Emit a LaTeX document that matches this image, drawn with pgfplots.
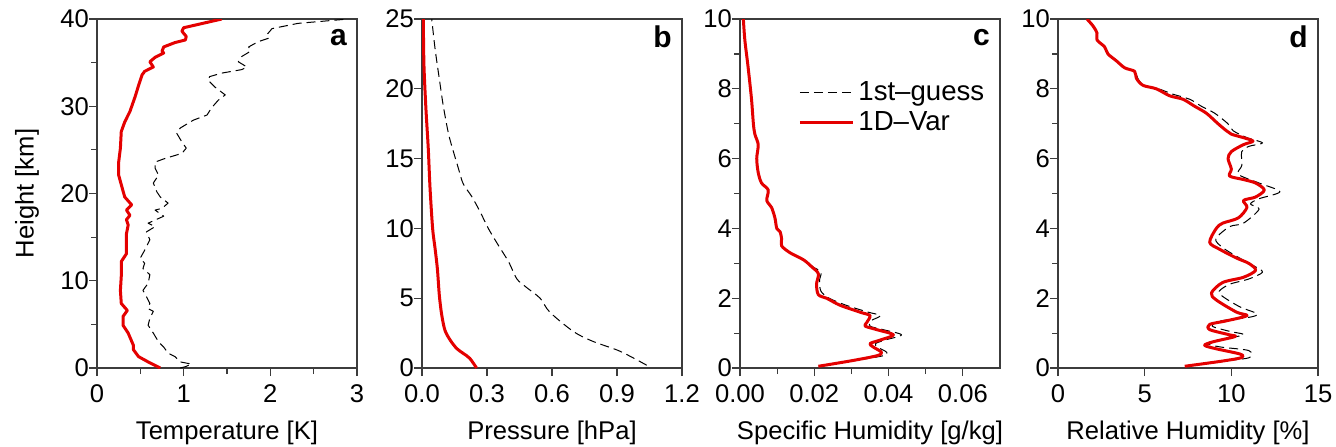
\documentclass[border=0pt]{standalone}
\usepackage{fontspec}
\setmainfont{Liberation Sans}
\usepackage{pgfplots}
\pgfplotsset{compat=1.18}
\definecolor{vred}{RGB}{228,0,0}
\definecolor{axgray}{RGB}{60,60,60}
\tikzset{letter/.style={anchor=east, inner sep=0pt, font=\bfseries\fontsize{15}{15}\selectfont}}
\pgfplotsset{
  panel/.style={
    scale only axis, width=130pt, height=174.5pt,
    axis line style={axgray, line width=0.6pt},
    tick style={axgray, line width=0.6pt},
    tick align=outside, tick pos=left,
    major tick length=4pt, minor tick length=3pt,
    ymin=0,
    /pgf/number format/assume math mode=true,
    tick label style={font=\fontsize{12.8}{14}\selectfont},
    yticklabel style={xshift=3.5pt},
    xticklabel style={yshift=-1pt},
    every axis x label/.style={at={([yshift=-32.5pt]axis description cs:0.5,0)}, anchor=center, font=\fontsize{12.8}{14}\selectfont},
    every axis y label/.style={at={([xshift=-35pt]axis description cs:0,0.5)}, anchor=center, rotate=90, font=\fontsize{12.8}{14}\selectfont},
    scaled ticks=false,
  },
  guess/.style={black, line width=0.5pt, dash pattern=on 4.5pt off 2.5pt, line join=round},
  var/.style={vred, line width=1.5pt, line join=round},
}
\begin{document}
\begin{tikzpicture}
\useasboundingbox (0,0) rectangle (668pt,223pt);
% ---------------- a
\begin{axis}[panel, at={(48.5pt,39pt)}, anchor=south west,
  xmin=0, xmax=3, ymax=40, xtick={0,1,2,3}, ytick={0,10,20,30,40},
  minor x tick num=1, minor y tick num=1,
  xlabel={Temperature [K]}, ylabel={Height [km]}]
\addplot[guess] table {
0.96 0.0
1.02 0.15
1.09 0.45
0.96 0.7
0.90 1.3
0.82 1.7
0.77 2.4
0.71 3.0
0.65 4.0
0.59 4.9
0.61 5.7
0.65 6.5
0.59 6.8
0.61 7.4
0.57 8.2
0.53 8.9
0.59 9.7
0.61 10.7
0.53 11.4
0.55 12.0
0.50 12.6
0.55 13.5
0.61 14.7
0.57 15.6
0.67 16.2
0.59 16.6
0.77 17.4
0.67 18.1
0.75 18.3
0.82 18.9
0.73 19.6
0.69 20.2
0.65 21.2
0.71 22.1
0.67 22.9
0.67 23.6
0.78 24.0
0.98 24.6
1.03 25.2
0.98 25.9
0.92 26.9
0.96 27.5
1.11 28.4
1.27 29.0
1.32 29.8
1.40 30.7
1.48 31.3
1.36 32.2
1.28 33.0
1.30 33.4
1.44 33.8
1.67 34.2
1.73 34.5
1.63 35.1
1.67 35.7
1.77 36.3
1.75 36.8
1.86 37.4
1.98 37.8
1.96 38.2
2.02 38.9
2.32 39.5
2.67 39.8
2.90 40.0
};
\addplot[var] table {
0.73 0.0
0.67 0.3
0.59 0.7
0.48 1.3
0.42 2.1
0.42 2.6
0.36 4.0
0.30 4.9
0.30 5.9
0.35 6.6
0.28 7.4
0.27 8.9
0.28 10.5
0.28 12.2
0.34 13.1
0.34 15.4
0.36 16.4
0.34 17.0
0.38 17.5
0.34 18.1
0.40 18.7
0.32 19.6
0.30 20.3
0.25 22.1
0.25 23.6
0.27 25.2
0.28 27.1
0.32 28.2
0.38 29.4
0.44 31.1
0.48 32.4
0.52 33.6
0.55 34.0
0.65 34.5
0.61 35.1
0.67 35.6
0.77 36.1
0.75 36.3
0.77 36.8
0.90 37.3
1.02 37.6
1.03 38.0
0.98 38.6
1.00 39.0
1.44 40.0
};
\node[letter] at (rel axis cs:0.962,0.948) {a};
\end{axis}
% ---------------- b
\begin{axis}[panel, at={(211pt,39pt)}, anchor=south west,
  xmin=0, xmax=1.2, ymax=25, xtick={0,0.3,0.6,0.9,1.2}, ytick={0,5,10,15,20,25},
  xticklabel style={/pgf/number format/.cd, fixed, fixed zerofill, precision=1},
  xlabel={Pressure [hPa]}]
\addplot[guess, smooth, tension=0.5] table {
1.037 0.2
0.914 1.2
0.79 1.9
0.70 2.6
0.59 4.0
0.545 5.0
0.48 5.8
0.437 6.4
0.40 7.6
0.352 8.8
0.306 10.0
0.268 11.2
0.229 12.3
0.19 13.2
0.168 14.3
0.145 15.5
0.122 16.8
0.098 18.8
0.08 20.7
0.06 22.9
0.045 25
};
\addplot[var, smooth, tension=0.5] table {
0.252 0.0
0.22 0.7
0.19 1.05
0.16 1.4
0.13 2.0
0.106 2.7
0.091 3.8
0.08 5.2
0.071 7.1
0.06 8.6
0.049 10.0
0.037 12.9
0.029 15.7
0.018 18.6
0.009 21.7
0.006 25
};
\node[letter] at (rel axis cs:0.962,0.948) {b};
\end{axis}
% ---------------- c
\begin{axis}[panel, at={(370pt,39pt)}, anchor=south west,
  xmin=0, xmax=0.07, ymax=10, xtick={0,0.02,0.04,0.06}, ytick={0,2,4,6,8,10},
  minor x tick num=1, minor y tick num=1,
  xticklabel style={/pgf/number format/.cd, fixed, fixed zerofill, precision=2},
  xlabel={Specific Humidity [g/kg]},
  legend style={at={(0.2,0.845)}, anchor=north west, draw=none, fill=none,
    font=\fontsize{13.8}{15}\selectfont, row sep=0pt},
  legend cell align=left,
  legend image code/.code={\draw[#1] (0pt,0pt) -- (26.5pt,0pt);}]
\addplot[guess, smooth, tension=0.5] table {
0.0212 0.05
0.0300 0.2
0.0385 0.35
0.0395 0.45
0.0370 0.6
0.0365 0.7
0.0390 0.8
0.0435 0.95
0.0385 1.1
0.0350 1.2
0.0352 1.35
0.0378 1.5
0.0345 1.6
0.0285 1.8
0.0240 2.0
0.0218 2.2
0.0214 2.5
0.0218 2.75
0.0196 2.9
0.0173 3.1
0.0137 3.3
0.0114 3.5
0.0114 3.7
0.0110 3.9
0.0100 4.0
0.0095 4.3
0.0086 4.6
0.0073 4.8
0.0077 5.1
0.0059 5.3
0.0050 5.6
0.0046 6.0
0.0050 6.4
0.0041 6.7
0.0036 7.0
0.0031 7.7
0.0022 8.6
0.0013 9.4
0.0009 10
};
\addplot[var, smooth, tension=0.5] table {
0.0211 0.05
0.0296 0.2
0.0368 0.35
0.0381 0.45
0.0359 0.6
0.0350 0.7
0.0377 0.8
0.0413 0.95
0.0368 1.1
0.0337 1.2
0.0341 1.3
0.0350 1.5
0.0323 1.6
0.0269 1.8
0.0233 2.0
0.0211 2.1
0.0206 2.4
0.0211 2.7
0.0193 2.9
0.0171 3.1
0.0135 3.3
0.0112 3.5
0.0112 3.7
0.0108 3.9
0.0099 4.0
0.0094 4.3
0.0085 4.6
0.0072 4.8
0.0076 5.1
0.0058 5.3
0.0049 5.6
0.0045 6.0
0.0049 6.4
0.0040 6.7
0.0036 7.0
0.0031 7.7
0.0022 8.6
0.0013 9.4
0.0009 10
};
\legend{1st–guess, 1D–Var}
\node[letter] at (rel axis cs:0.962,0.948) {c};
\end{axis}
% ---------------- d
\begin{axis}[panel, at={(529pt,39pt)}, anchor=south west,
  xmin=0, xmax=15, ymax=10, xtick={0,5,10,15}, ytick={0,2,4,6,8,10},
  minor y tick num=1,
  xlabel={Relative Humidity [\%]}]
\addplot[guess, smooth, tension=0.5] table {
7.4 0.05
9.6 0.2
11.05 0.3
11.0 0.5
9.4 0.6
8.6 0.7
9.2 0.8
10.7 0.95
9.9 1.05
8.9 1.2
9.4 1.35
11.0 1.45
11.5 1.55
10.5 1.75
9.5 2.05
9.3 2.2
9.9 2.4
11.0 2.55
11.8 2.75
11.2 2.95
10.3 3.2
9.5 3.45
9.1 3.7
9.9 4.05
10.7 4.15
11.6 4.55
11.1 4.7
11.6 4.85
12.8 5.05
11.6 5.3
10.4 5.55
10.6 5.8
10.6 6.2
11.0 6.35
11.8 6.45
10.9 6.6
10.1 6.8
9.8 7.0
9.04 7.3
8.27 7.5
7.6 7.7
6.6 7.85
5.8 8.0
4.95 8.1
4.6 8.3
4.45 8.5
3.88 8.6
3.4 8.8
2.9 9.0
2.72 9.2
2.28 9.4
2.27 9.6
2.04 9.8
1.69 10
};
\addplot[var, smooth, tension=0.5] table {
7.31 0.05
9.5 0.2
10.6 0.3
10.5 0.4
9.13 0.55
8.46 0.65
8.94 0.75
10.2 0.9
9.9 0.95
8.75 1.1
8.75 1.25
9.7 1.35
10.9 1.5
10.3 1.6
9.13 1.95
8.85 2.15
9.5 2.45
10.7 2.6
11.4 2.8
11.0 3.0
10.3 3.15
9.33 3.4
8.75 3.6
9.13 4.0
9.5 4.15
10.4 4.3
10.9 4.6
10.7 4.8
11.4 4.9
11.9 5.1
11.4 5.3
10.7 5.4
9.9 5.5
10.0 5.7
9.81 6.0
10.0 6.2
10.7 6.4
11.25 6.5
10.7 6.6
10.0 6.7
9.71 6.8
9.23 7.0
8.56 7.3
7.88 7.5
7.21 7.7
6.44 7.8
5.67 8.0
4.90 8.1
4.52 8.3
4.42 8.5
3.85 8.6
3.37 8.8
2.88 9.0
2.69 9.2
2.25 9.4
2.25 9.6
2.02 9.8
1.67 10
};
\node[letter] at (rel axis cs:0.962,0.948) {d};
\end{axis}
\end{tikzpicture}
\end{document}
